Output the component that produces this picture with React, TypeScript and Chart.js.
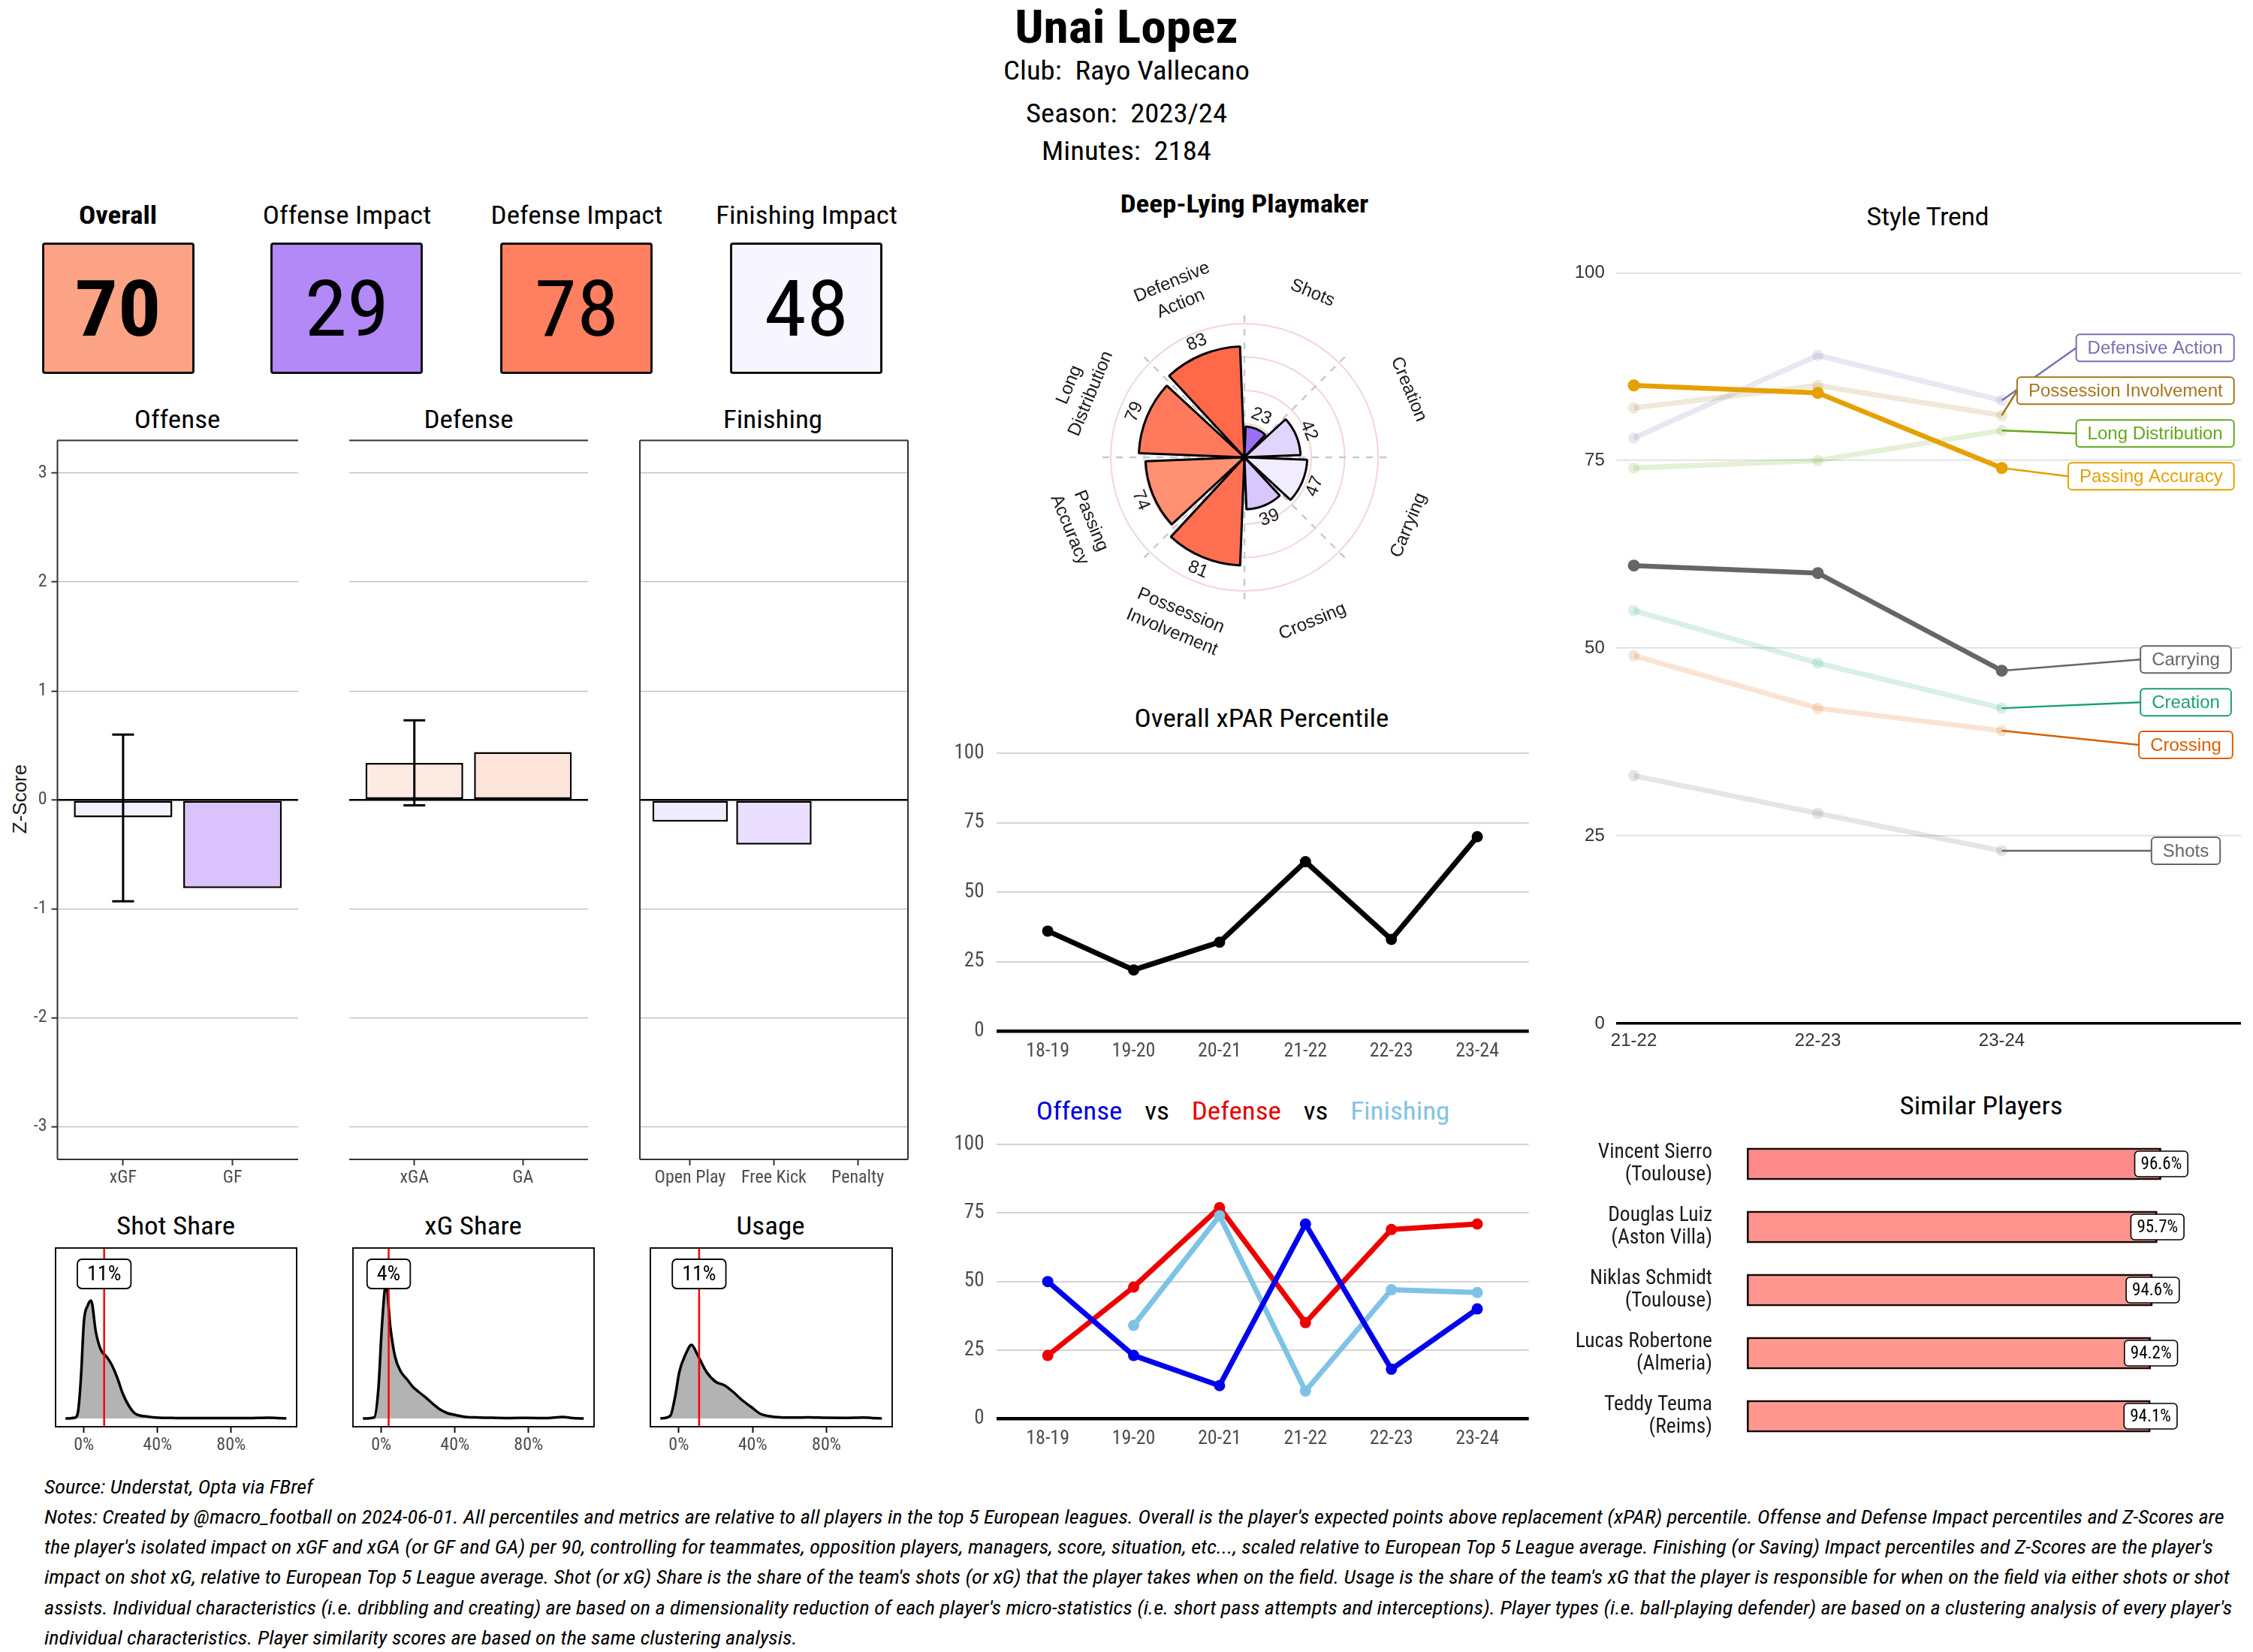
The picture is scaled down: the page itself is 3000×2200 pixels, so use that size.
import React, { useEffect, useLayoutEffect, useRef, useState } from 'react';
import { Chart, registerables } from 'chart.js';
Chart.register(...registerables);

// ---------------- data ----------------
const PLAYER_NAME = 'Unai Lopez';
const CLUB = 'Rayo Vallecano';
const SEASON = '2023/24';
const MINUTES = 2184;

const KPI_LABELS = ['Overall', 'Offense Impact', 'Defense Impact', 'Finishing Impact'];
const KPI_VALUES = [70, 29, 78, 48];

const OFFENSE_CATS = ['xGF', 'GF'];
const OFFENSE_Z = [-0.16, -0.81];
const OFFENSE_ERR_LOW: (number | null)[] = [-0.93, null];
const OFFENSE_ERR_HIGH: (number | null)[] = [0.6, null];
const DEFENSE_CATS = ['xGA', 'GA'];
const DEFENSE_Z = [0.34, 0.44];
const DEFENSE_ERR_LOW: (number | null)[] = [-0.05, null];
const DEFENSE_ERR_HIGH: (number | null)[] = [0.73, null];
const FINISHING_CATS = ['Open Play', 'Free Kick', 'Penalty'];
const FINISHING_Z = [-0.2, -0.41, 0];
const Z_TICKS = [-3, -2, -1, 0, 1, 2, 3];

const SHARE_TITLES = ['Shot Share', 'xG Share', 'Usage'];
const SHARE_VALUES = [11, 4, 11];
const SHARE_TICKS = [0, 40, 80];
const SHOT_SHARE_X = [-10, -5, -3.2, -1.6, 0, 2, 3.9, 6.5, 9.1, 12.4, 15, 18, 21.3, 24.4, 27.6, 30.9, 34, 39, 50, 60, 70, 80, 90, 100, 105, 110];
const SHOT_SHARE_Y = [0, 0.01, 0.09, 0.55, 1.29, 1.5, 1.57, 1.15, 0.92, 0.82, 0.72, 0.55, 0.32, 0.17, 0.07, 0.037, 0.027, 0.013, 0.006, 0.005, 0.006, 0.004, 0.005, 0.01, 0.006, 0];
const XG_SHARE_X = [-10, -3.9, -1.6, 0.3, 2.6, 4.9, 7.5, 10.7, 14, 17.2, 20.5, 23.8, 27.8, 31.9, 36, 40, 46, 53, 60, 70, 80, 90, 98.6, 104, 110];
const XG_SHARE_Y = [0, 0.013, 0.39, 1.22, 1.8, 1.22, 0.82, 0.62, 0.52, 0.42, 0.35, 0.287, 0.2, 0.12, 0.07, 0.047, 0.02, 0.013, 0.01, 0.006, 0.007, 0.005, 0.02, 0.005, 0];
const USAGE_X = [-10, -4.6, -2, 0.3, 3.6, 6.9, 10.1, 15, 19.9, 24.8, 29.6, 34.5, 39.4, 44.3, 49.2, 55, 62, 70, 80, 90, 99.6, 105, 110];
const USAGE_Y = [0, 0.037, 0.29, 0.62, 0.85, 0.98, 0.85, 0.62, 0.49, 0.44, 0.35, 0.24, 0.15, 0.06, 0.03, 0.015, 0.012, 0.014, 0.009, 0.008, 0.013, 0.006, 0];

const RADAR_TITLE = 'Deep-Lying Playmaker';
const RADAR_CATS = ['Shots', 'Creation', 'Carrying', 'Crossing', 'Possession Involvement', 'Passing Accuracy', 'Long Distribution', 'Defensive Action'];
const RADAR_VALUES = [23, 42, 47, 39, 81, 74, 79, 83];

const SEASONS = ['18-19', '19-20', '20-21', '21-22', '22-23', '23-24'];
const XPAR_PCT = [36, 22, 32, 61, 33, 70];
const OFFENSE_PCT = [50, 23, 12, 71, 18, 40];
const DEFENSE_PCT = [23, 48, 77, 35, 69, 71];
const FINISHING_PCT: (number | null)[] = [null, 34, 74, 10, 47, 46];
const PCT_TICKS = [0, 25, 50, 75, 100];

const STYLE_SEASONS = ['21-22', '22-23', '23-24'];
const STYLE_NAMES = ['Defensive Action', 'Possession Involvement', 'Long Distribution', 'Passing Accuracy', 'Carrying', 'Creation', 'Crossing', 'Shots'];
const STYLE_DEFENSIVE_ACTION = [78, 89, 83];
const STYLE_POSSESSION_INVOLVEMENT = [82, 85, 81];
const STYLE_LONG_DISTRIBUTION = [74, 75, 79];
const STYLE_PASSING_ACCURACY = [85, 84, 74];
const STYLE_CARRYING = [61, 60, 47];
const STYLE_CREATION = [55, 48, 42];
const STYLE_CROSSING = [49, 42, 39];
const STYLE_SHOTS = [33, 28, 23];
const STYLE_VALUES = [STYLE_DEFENSIVE_ACTION, STYLE_POSSESSION_INVOLVEMENT, STYLE_LONG_DISTRIBUTION, STYLE_PASSING_ACCURACY, STYLE_CARRYING, STYLE_CREATION, STYLE_CROSSING, STYLE_SHOTS];
const STYLE_HIGHLIGHT = ['Passing Accuracy', 'Carrying'];

const SIMILAR_NAMES = ['Vincent Sierro', 'Douglas Luiz', 'Niklas Schmidt', 'Lucas Robertone', 'Teddy Teuma'];
const SIMILAR_CLUBS = ['Toulouse', 'Aston Villa', 'Toulouse', 'Almeria', 'Reims'];
const SIMILAR_SCORES = [96.6, 95.7, 94.6, 94.2, 94.1];

const SOURCE_TEXT = 'Source: Understat, Opta via FBref';
const NOTES_LINES = [
  "Notes: Created by @macro_football on 2024-06-01. All percentiles and metrics are relative to all players in the top 5 European leagues. Overall is the player's expected points above replacement (xPAR) percentile. Offense and Defense Impact percentiles and Z-Scores are",
  "the player's isolated impact on xGF and xGA (or GF and GA) per 90, controlling for teammates, opposition players, managers, score, situation, etc..., scaled relative to European Top 5 League average. Finishing (or Saving) Impact percentiles and Z-Scores are the player's",
  "impact on shot xG, relative to European Top 5 League average. Shot (or xG) Share is the share of the team's shots (or xG) that the player takes when on the field. Usage is the share of the team's xG that the player is responsible for when on the field via either shots or shot",
  "assists. Individual characteristics (i.e. dribbling and creating) are based on a dimensionality reduction of each player's micro-statistics (i.e. short pass attempts and interceptions). Player types (i.e. ball-playing defender) are based on a clustering analysis of every player's",
  'individual characteristics. Player similarity scores are based on the same clustering analysis.',
];

// ---------------- styles ----------------
function detectFont(cands: string[], fallback: string): string {
  try {
    const c = document.createElement('canvas').getContext('2d')!;
    const s = 'abcdefghijklmnopqrstuvwxyz ABCDEFGHIJKLM 0123456789';
    c.font = '40px monospace';
    const bm = c.measureText(s).width;
    for (const f of cands) {
      c.font = `40px "${f}", monospace`;
      const w1 = c.measureText(s).width;
      c.font = `40px "${f}", serif`;
      const w2 = c.measureText(s).width;
      if (Math.abs(w1 - w2) < 0.01 && Math.abs(w1 - bm) > 0.01) return `"${f}"`;
    }
  } catch (e) {}
  return fallback;
}
const COND = detectFont(['Roboto Condensed', 'Liberation Sans Narrow', 'Arial Narrow', 'Noto Sans Condensed', 'Open Sans Condensed', 'DejaVu Sans Condensed'], 'Roboto');
const FONT_C = `${COND}, Roboto, sans-serif`;
const FONT_A = '"Liberation Sans", Arial, Helvetica, sans-serif';
const FONT_R = 'Roboto, "Liberation Sans", sans-serif';

const KPI_COLORS = ['#FCA385', '#B388F7', '#FF7F61', '#F7F5FF'];
const OFFENSE_COLORS = ['#F4F1FF', '#DAC3FD'];
const DEFENSE_COLORS = ['#FDEAE2', '#FDE4DA'];
const FINISHING_COLORS = ['#EFECFF', '#EADFFF', '#FFFFFF'];
const RADAR_COLORS = ['#9D6EF6', '#E2D5FD', '#F2EDFE', '#D8C7FB', '#FF6F52', '#FF9071', '#FF7A5C', '#FF6949'];
const STYLE_COLORS = ['#7570B3', '#A6761D', '#66A61E', '#E6A000', '#666666', '#1B9E77', '#D95F02', '#666666'];
const SIMILAR_COLORS = ['#FF8A8A', '#FF938D', '#FF968F', '#FF978F', '#FF978F'];
const TICK_GRAY = '#4D4D4D';
const TITLE_SIZE = 33.5;

const hexA = (hex: string, a: number) => {
  const n = parseInt(hex.slice(1), 16);
  return `rgba(${(n >> 16) & 255},${(n >> 8) & 255},${n & 255},${a})`;
};

const baseOptions = (extra: any) => ({
  animation: false,
  responsive: false,
  devicePixelRatio: 1,
  events: [],
  plugins: { legend: { display: false }, tooltip: { enabled: false }, title: { display: false } },
  ...extra,
});

const fixedTicks = (vals: number[]) => (s: any) => {
  s.ticks = vals.map((v) => ({ value: v }));
};

// ---------------- plugins ----------------
const panelBorders = (sides: { l?: boolean; r?: boolean; t?: boolean; b?: boolean }) => ({
  id: 'panelBorders',
  afterDatasetsDraw(chart: any) {
    const { ctx, chartArea: a } = chart;
    ctx.save();
    ctx.strokeStyle = '#333';
    ctx.lineWidth = 2;
    ctx.beginPath();
    if (sides.t) { ctx.moveTo(a.left, a.top); ctx.lineTo(a.right, a.top); }
    if (sides.b) { ctx.moveTo(a.left, a.bottom); ctx.lineTo(a.right, a.bottom); }
    if (sides.l) { ctx.moveTo(a.left, a.top); ctx.lineTo(a.left, a.bottom); }
    if (sides.r) { ctx.moveTo(a.right, a.top); ctx.lineTo(a.right, a.bottom); }
    ctx.stroke();
    ctx.restore();
  },
});

const errorBars = (lo: (number | null)[], hi: (number | null)[]) => ({
  id: 'errorBars',
  afterDatasetsDraw(chart: any) {
    const { ctx, scales } = chart;
    const x = scales.x, y = scales.y;
    ctx.save();
    ctx.strokeStyle = '#000';
    ctx.lineWidth = 3;
    lo.forEach((l, i) => {
      const h = hi[i];
      if (l == null || h == null) return;
      const px = x.getPixelForValue(i + 1);
      const cap = x.getPixelForValue(i + 1.1) - px;
      const y1 = y.getPixelForValue(l), y2 = y.getPixelForValue(h);
      ctx.beginPath();
      ctx.moveTo(px, y1); ctx.lineTo(px, y2);
      ctx.moveTo(px - cap, y1); ctx.lineTo(px + cap, y1);
      ctx.moveTo(px - cap, y2); ctx.lineTo(px + cap, y2);
      ctx.stroke();
    });
    ctx.restore();
  },
});

const shareMarker = (value: number) => ({
  id: 'shareMarker',
  afterDatasetsDraw(chart: any) {
    const { ctx, chartArea: a, scales } = chart;
    const px = scales.x.getPixelForValue(value);
    ctx.save();
    ctx.strokeStyle = '#FF0000';
    ctx.lineWidth = 2.5;
    ctx.beginPath(); ctx.moveTo(px, a.top); ctx.lineTo(px, a.bottom); ctx.stroke();
    ctx.strokeStyle = '#111';
    ctx.lineWidth = 2;
    ctx.strokeRect(a.left, a.top, a.right - a.left, a.bottom - a.top);
    const txt = `${value}%`;
    ctx.font = `28px ${FONT_C}`;
    const tw = ctx.measureText(txt).width;
    const bw = tw + 26, bh = 39, cy = a.top + 34.5;
    ctx.beginPath();
    ctx.roundRect(px - bw / 2, cy - bh / 2, bw, bh, 6);
    ctx.fillStyle = '#fff'; ctx.fill();
    ctx.lineWidth = 1.8; ctx.strokeStyle = '#000'; ctx.stroke();
    ctx.fillStyle = '#000'; ctx.textAlign = 'center'; ctx.textBaseline = 'middle';
    ctx.fillText(txt, px, cy + 1);
    ctx.restore();
  },
});

const polarDecor = {
  id: 'polarDecor',
  beforeDatasetsDraw(chart: any) {
    const { ctx } = chart;
    const r = chart.scales.r;
    const cx = r.xCenter, cy = r.yCenter;
    const len = r.getDistanceFromCenterForValue(110);
    ctx.save();
    ctx.strokeStyle = '#C9C9C9';
    ctx.lineWidth = 2.5;
    ctx.setLineDash([9, 9]);
    for (let k = 0; k < 8; k++) {
      const a = (k * 45 * Math.PI) / 180;
      ctx.beginPath();
      ctx.moveTo(cx, cy);
      ctx.lineTo(cx + Math.sin(a) * len, cy - Math.cos(a) * len);
      ctx.stroke();
    }
    ctx.restore();
  },
  afterDatasetsDraw(chart: any) {
    const { ctx } = chart;
    const r = chart.scales.r;
    const cx = r.xCenter, cy = r.yCenter;
    const meta = chart.getDatasetMeta(0);
    ctx.save();
    ctx.fillStyle = '#1a1a1a';
    ctx.textAlign = 'center';
    ctx.textBaseline = 'middle';
    ctx.font = `24px ${FONT_A}`;
    RADAR_CATS.forEach((cat, i) => {
      const arc = meta.data[i * 2];
      const a = (arc.startAngle + arc.endAngle) / 2;
      let theta = ((a + Math.PI / 2) * 180) / Math.PI;
      theta = ((theta % 360) + 360) % 360;
      let rot = theta;
      if (theta > 90 && theta < 270) rot -= 180;
      const draw = (radius: number, lines: string[]) => {
        ctx.save();
        ctx.translate(cx + Math.cos(a) * radius, cy + Math.sin(a) * radius);
        ctx.rotate((rot * Math.PI) / 180);
        const lh = 31;
        lines.forEach((ln, j) => ctx.fillText(ln, 0, (j - (lines.length - 1) / 2) * lh));
        ctx.restore();
      };
      draw(r.getDistanceFromCenterForValue(RADAR_VALUES[i] + 10), [String(RADAR_VALUES[i])]);
      draw(r.getDistanceFromCenterForValue(133), cat.split(' '));
    });
    ctx.restore();
  },
};

type LabelPos = { x: number; y: number; align: 'right' | 'center' };
const STYLE_LABEL_LAYOUT: LabelPos[] = [
  { x: 3.262, y: 90.0, align: 'right' },
  { x: 3.262, y: 84.3, align: 'right' },
  { x: 3.262, y: 78.6, align: 'right' },
  { x: 3.262, y: 72.9, align: 'right' },
  { x: 3.0, y: 48.5, align: 'center' },
  { x: 3.0, y: 42.8, align: 'center' },
  { x: 3.0, y: 37.1, align: 'center' },
  { x: 3.0, y: 23.0, align: 'center' },
];

const styleLabels = {
  id: 'styleLabels',
  afterDatasetsDraw(chart: any) {
    const { ctx, scales } = chart;
    const x = scales.x, y = scales.y;
    ctx.save();
    ctx.font = `24px ${FONT_A}`;
    ctx.textBaseline = 'middle';
    ctx.textAlign = 'center';
    STYLE_NAMES.forEach((name, i) => {
      const col = STYLE_COLORS[i];
      const lay = STYLE_LABEL_LAYOUT[i];
      const vals = STYLE_VALUES[i];
      const px = x.getPixelForValue(vals.length - 1);
      const py = y.getPixelForValue(vals[vals.length - 1]);
      const tw = ctx.measureText(name).width;
      const bw = tw + 30, bh = 36;
      const ax = x.getPixelForValue(lay.x);
      const bx = lay.align === 'right' ? ax - bw : ax - bw / 2;
      const by = y.getPixelForValue(lay.y);
      ctx.strokeStyle = col;
      ctx.lineWidth = 2.5;
      ctx.beginPath(); ctx.moveTo(px, py); ctx.lineTo(bx, by); ctx.stroke();
      ctx.beginPath();
      ctx.roundRect(bx, by - bh / 2, bw, bh, 5);
      ctx.fillStyle = '#fff'; ctx.fill();
      ctx.lineWidth = 2; ctx.strokeStyle = col; ctx.stroke();
      ctx.fillStyle = col;
      ctx.fillText(name, bx + bw / 2, by + 1);
    });
    ctx.restore();
  },
};

const similarLabels = {
  id: 'similarLabels',
  afterDatasetsDraw(chart: any) {
    const { ctx } = chart;
    const meta = chart.getDatasetMeta(0);
    ctx.save();
    ctx.font = `23px ${FONT_C}`;
    ctx.textAlign = 'center';
    ctx.textBaseline = 'middle';
    meta.data.forEach((bar: any, i: number) => {
      const txt = `${SIMILAR_SCORES[i].toFixed(1)}%`;
      const tw = ctx.measureText(txt).width;
      const bw = tw + 16, bh = 34;
      ctx.beginPath();
      ctx.roundRect(bar.x - bw / 2, bar.y - bh / 2, bw, bh, 5);
      ctx.fillStyle = '#fff'; ctx.fill();
      ctx.lineWidth = 1.6; ctx.strokeStyle = '#000'; ctx.stroke();
      ctx.fillStyle = '#000';
      ctx.fillText(txt, bar.x, bar.y + 1);
    });
    ctx.restore();
  },
};

// ---------------- configs ----------------
function zPanelConfig(cats: string[], vals: number[], colors: string[], lo: (number | null)[] | null, hi: (number | null)[] | null, showY: boolean, sides: any, pad: any) {
  const n = cats.length;
  const plugins: any[] = [panelBorders(sides)];
  if (lo && hi) plugins.push(errorBars(lo, hi));
  return {
    type: 'bar',
    data: {
      datasets: [{
        data: vals.map((v, i) => ({ x: i + 1, y: v })),
        backgroundColor: colors,
        borderColor: '#000',
        borderWidth: 2.5,
        borderSkipped: false,
        barPercentage: 0.9,
        categoryPercentage: 1,
      }],
    },
    options: baseOptions({
      layout: { padding: pad },
      scales: {
        x: {
          type: 'linear', min: 0.4, max: n + 0.6, offset: false,
          afterBuildTicks: fixedTicks(cats.map((_, i) => i + 1)),
          ticks: { callback: (v: any) => cats[Math.round(v) - 1] ?? '', font: { family: FONT_C, size: 24 }, color: TICK_GRAY, padding: 3, maxRotation: 0, autoSkip: false },
          grid: { offset: false, drawOnChartArea: false, drawTicks: true, tickLength: 8, tickColor: '#333', tickWidth: 2 },
          border: { display: false },
          afterFit: (s: any) => { s.height = 50; s.paddingLeft = 0; s.paddingRight = 0; },
        },
        y: {
          min: -3.3, max: 3.3,
          afterBuildTicks: fixedTicks(Z_TICKS),
          ticks: { display: showY, font: { family: FONT_C, size: 24 }, color: TICK_GRAY, padding: 6 },
          grid: {
            color: (c: any) => (c.tick && c.tick.value === 0 ? '#000' : '#BBBBBB'),
            lineWidth: (c: any) => (c.tick && c.tick.value === 0 ? 2.5 : 1.3),
            drawTicks: showY, tickLength: 8, tickColor: '#333', tickWidth: 2,
          },
          border: { display: false },
          afterFit: (s: any) => { s.width = showY ? 76.5 : 0; s.paddingTop = 0; s.paddingBottom = 0; },
        },
      },
    }),
    plugins,
  };
}

function densityConfig(xs: number[], ys: number[], value: number) {
  return {
    type: 'line',
    data: {
      datasets: [{
        data: xs.map((x, i) => ({ x, y: ys[i] })),
        borderColor: '#000', borderWidth: 3.5,
        backgroundColor: '#B3B3B3', fill: 'origin',
        pointRadius: 0, cubicInterpolationMode: 'monotone', tension: 0.4,
      }],
    },
    options: baseOptions({
      layout: { padding: { left: 20, right: 19, top: 12, bottom: 0 } },
      scales: {
        x: {
          type: 'linear', min: -15.4, max: 115.6, offset: false,
          afterBuildTicks: fixedTicks(SHARE_TICKS),
          ticks: { callback: (v: any) => `${v}%`, font: { family: FONT_C, size: 24 }, color: TICK_GRAY, padding: 3, maxRotation: 0 },
          grid: { drawOnChartArea: false, drawTicks: true, tickLength: 8, tickColor: '#111', tickWidth: 2 },
          border: { display: false },
          afterFit: (s: any) => { s.height = 40; s.paddingLeft = 0; s.paddingRight = 0; },
        },
        y: { display: false, min: -0.11, max: 2.27 },
      },
    }),
    plugins: [shareMarker(value)],
  };
}

function polarConfig() {
  return {
    type: 'polarArea',
    data: {
      labels: RADAR_CATS.flatMap((c) => [c, '']),
      datasets: [{
        data: RADAR_VALUES.flatMap((v) => [v, 0]),
        backgroundColor: RADAR_COLORS.flatMap((c) => [c, 'rgba(0,0,0,0)']),
        borderColor: '#000',
        borderWidth: (c: any) => (c.dataIndex % 2 === 0 ? 3 : 0),
        angle: (c: any) => (c.dataIndex % 2 === 0 ? 40.5 : 4.5),
      }],
    },
    options: baseOptions({
      layout: { padding: 122 },
      scales: {
        r: {
          min: 0, max: 100, startAngle: 2.25,
          ticks: { display: false, stepSize: 25 },
          grid: { color: '#F2D5D8', lineWidth: 2, circular: true },
          angleLines: { display: false },
          pointLabels: { display: false },
        },
      },
    }),
    plugins: [polarDecor],
  };
}

function pctLineConfig(datasets: any[], padTop: number) {
  return {
    type: 'line',
    data: { datasets },
    options: baseOptions({
      layout: { padding: { top: padTop, right: 14.3, left: 0, bottom: 0 } },
      scales: {
        x: {
          type: 'linear', min: 0.4, max: 6.6, offset: false,
          afterBuildTicks: fixedTicks(SEASONS.map((_, i) => i + 1)),
          ticks: { callback: (v: any) => SEASONS[Math.round(v) - 1] ?? '', font: { family: FONT_C, size: 26 }, color: TICK_GRAY, padding: 12, maxRotation: 0, autoSkip: false },
          grid: { display: false, drawTicks: false },
          border: { display: false },
          afterFit: (s: any) => { s.height = 50; s.paddingLeft = 0; s.paddingRight = 0; },
        },
        y: {
          min: 0, max: 100,
          afterBuildTicks: fixedTicks(PCT_TICKS),
          ticks: { font: { family: FONT_C, size: 27 }, color: TICK_GRAY, padding: 16 },
          grid: {
            drawTicks: false,
            color: (c: any) => (c.tick && c.tick.value === 0 ? '#000' : '#D4D4D4'),
            lineWidth: (c: any) => (c.tick && c.tick.value === 0 ? 4.5 : 2),
          },
          border: { display: false },
          afterFit: (s: any) => { s.width = 76.5; s.paddingTop = 0; s.paddingBottom = 0; },
        },
      },
    }),
  };
}

const pctSeries = (vals: (number | null)[], color: string, width: number, order: number) => ({
  data: vals.map((v, i) => ({ x: i + 1, y: v })),
  borderColor: color, backgroundColor: color,
  pointBackgroundColor: color, pointBorderWidth: 0,
  borderWidth: width, pointRadius: 7.5, order, spanGaps: false, clip: false,
});

function styleConfig() {
  return {
    type: 'line',
    data: {
      datasets: STYLE_NAMES.map((name, i) => {
        const hl = STYLE_HIGHLIGHT.includes(name);
        const col = hl ? STYLE_COLORS[i] : hexA(STYLE_COLORS[i], 0.17);
        return {
          label: name,
          data: STYLE_VALUES[i].map((v, j) => ({ x: j, y: v })),
          borderColor: col, backgroundColor: col, pointBackgroundColor: col,
          pointBorderWidth: 0, borderWidth: hl ? 6.5 : 7, pointRadius: hl ? 8 : 7.5,
          order: hl ? 0 : 1, clip: false,
        };
      }),
    },
    options: baseOptions({
      layout: { padding: { top: 43.3, right: 16, left: 0, bottom: 0 } },
      scales: {
        x: {
          type: 'linear', min: -0.097, max: 3.3, offset: false,
          afterBuildTicks: fixedTicks(STYLE_SEASONS.map((_, i) => i)),
          ticks: { callback: (v: any) => STYLE_SEASONS[Math.round(v)] ?? '', font: { family: FONT_A, size: 24 }, color: '#333', padding: 9, maxRotation: 0, autoSkip: false },
          grid: { display: false, drawTicks: false },
          border: { display: false },
          afterFit: (s: any) => { s.height = 45; s.paddingLeft = 0; s.paddingRight = 0; },
        },
        y: {
          min: 0, max: 100,
          afterBuildTicks: fixedTicks(PCT_TICKS),
          ticks: { font: { family: FONT_A, size: 24 }, color: '#333', padding: 15 },
          grid: {
            drawTicks: false,
            color: (c: any) => (c.tick && c.tick.value === 0 ? '#000' : '#DADADA'),
            lineWidth: (c: any) => (c.tick && c.tick.value === 0 ? 3.5 : 1.5),
          },
          border: { display: false },
          afterFit: (s: any) => { s.width = 101.8; s.paddingTop = 0; s.paddingBottom = 0; },
        },
      },
    }),
    plugins: [styleLabels],
  };
}

function similarConfig() {
  return {
    type: 'bar',
    data: {
      labels: SIMILAR_NAMES.map((n, i) => [n, `(${SIMILAR_CLUBS[i]})`]),
      datasets: [{
        data: SIMILAR_SCORES,
        backgroundColor: SIMILAR_COLORS,
        borderColor: '#1A0505', borderWidth: 3, borderSkipped: false,
        barPercentage: 0.51, categoryPercentage: 1,
      }],
    },
    options: baseOptions({
      indexAxis: 'y',
      layout: { padding: { top: 18, bottom: 2, right: 102.7, left: 0 } },
      scales: {
        x: { display: false, min: 0, max: 100 },
        y: {
          ticks: { font: { family: FONT_C, size: 27.5, lineHeight: 1.1 }, color: '#1a1a1a', padding: 45.8, autoSkip: false },
          grid: { display: false, drawTicks: false },
          border: { display: false },
          afterFit: (s: any) => { s.width = 275.8; s.paddingTop = 0; s.paddingBottom = 0; },
        },
      },
    }),
    plugins: [similarLabels],
  };
}

// ---------------- components ----------------
function ChartCanvas({ x, y, w, h, config }: { x: number; y: number; w: number; h: number; config: () => any }) {
  const ref = useRef<HTMLCanvasElement>(null);
  useEffect(() => {
    if (!ref.current) return;
    const ch = new Chart(ref.current, config());
    return () => ch.destroy();
  }, []);
  return <canvas ref={ref} width={w} height={h} style={{ position: 'absolute', left: x, top: y, width: w, height: h }} />;
}

type TxtProps = {
  x: number; y: number; size: number; children: React.ReactNode;
  weight?: number; italic?: boolean; family?: string; color?: string; k?: number;
  anchor?: 'center' | 'left'; rotate?: number; innerRef?: any;
};
function Txt({ x, y, size, children, weight = 400, italic = false, family = FONT_C, color = '#000', k = 1, anchor = 'center', rotate = 0, innerRef }: TxtProps) {
  const tx = anchor === 'center' ? '-50%' : '0';
  return (
    <div
      ref={innerRef}
      style={{
        position: 'absolute', left: x, top: y, fontFamily: family, fontSize: size, fontWeight: weight,
        fontStyle: italic ? 'italic' : 'normal', color, lineHeight: 1, whiteSpace: 'pre',
        transform: `translate(${tx},-50%)${rotate ? ` rotate(${rotate}deg)` : ''} scaleX(${k})`,
        transformOrigin: anchor === 'center' ? '50% 50%' : '0 50%',
      }}
    >
      {children}
    </div>
  );
}

const KPI_BOXES = [
  { left: 55.5, cx: 156.8 },
  { left: 360, cx: 462 },
  { left: 666, cx: 768 },
  { left: 972, cx: 1074 },
];

export default function App() {
  const [kHead, setKHead] = useState(1);
  const [kNote, setKNote] = useState(1);
  const clubRef = useRef<HTMLDivElement>(null);
  const noteRef = useRef<HTMLDivElement>(null);
  useLayoutEffect(() => {
    const cw = clubRef.current ? clubRef.current.offsetWidth : 0;
    const nw = noteRef.current ? noteRef.current.offsetWidth : 0;
    if (cw > 0) setKHead(Math.max(0.6, Math.min(1.3, 328 / cw)));
    if (nw > 0) setKNote(Math.max(0.6, Math.min(1.3, 2902 / nw)));
  }, []);

  return (
    <div style={{ position: 'absolute', left: 0, top: 0, width: 3000, height: 2200, background: '#fff', overflow: 'hidden' }}>
      {/* header */}
      <Txt x={1500} y={35.5} size={61} weight={700} k={kHead}>{PLAYER_NAME}</Txt>
      <Txt x={1500} y={94.2} size={35} k={kHead} innerRef={clubRef}>{`Club:  ${CLUB}`}</Txt>
      <Txt x={1500} y={150.8} size={35} k={kHead}>{`Season:  ${SEASON}`}</Txt>
      <Txt x={1500} y={200.8} size={35} k={kHead}>{`Minutes:  ${MINUTES}`}</Txt>

      {/* KPI boxes */}
      {KPI_LABELS.map((lab, i) => (
        <React.Fragment key={lab}>
          <Txt x={KPI_BOXES[i].cx} y={287} size={TITLE_SIZE} weight={i === 0 ? 700 : 400} k={kHead}>{lab}</Txt>
          <div style={{ position: 'absolute', left: KPI_BOXES[i].left, top: 323, width: 203, height: 175, boxSizing: 'border-box', background: KPI_COLORS[i], border: '3px solid #111', borderRadius: 4 }} />
          <Txt x={KPI_BOXES[i].cx} y={411} size={103} weight={i === 0 ? 700 : 400} k={kHead}>{String(KPI_VALUES[i])}</Txt>
        </React.Fragment>
      ))}

      {/* z-score panels */}
      <Txt x={236} y={559} size={TITLE_SIZE} k={kHead}>Offense</Txt>
      <Txt x={624} y={559} size={TITLE_SIZE} k={kHead}>Defense</Txt>
      <Txt x={1029} y={559} size={TITLE_SIZE} k={kHead}>Finishing</Txt>
      <Txt x={26} y={1064} size={26} family={FONT_A} rotate={-90} color="#1a1a1a">Z-Score</Txt>
      <ChartCanvas x={0} y={540} w={410} h={1054} config={() => zPanelConfig(OFFENSE_CATS, OFFENSE_Z, OFFENSE_COLORS, OFFENSE_ERR_LOW, OFFENSE_ERR_HIGH, true, { l: true, t: true, b: true }, { left: 0, top: 46.5, right: 13, bottom: 0 })} />
      <ChartCanvas x={455} y={540} w={340} h={1054} config={() => zPanelConfig(DEFENSE_CATS, DEFENSE_Z, DEFENSE_COLORS, DEFENSE_ERR_LOW, DEFENSE_ERR_HIGH, false, { t: true, b: true }, { left: 10, top: 46.5, right: 12, bottom: 0 })} />
      <ChartCanvas x={842} y={540} w={380} h={1054} config={() => zPanelConfig(FINISHING_CATS, FINISHING_Z, FINISHING_COLORS, null, null, false, { t: true, b: true, l: true, r: true }, { left: 10, top: 46.5, right: 13, bottom: 0 })} />

      {/* share densities */}
      <Txt x={233.6} y={1633} size={TITLE_SIZE} k={kHead}>{SHARE_TITLES[0]}</Txt>
      <Txt x={630} y={1633} size={TITLE_SIZE} k={kHead}>{SHARE_TITLES[1]}</Txt>
      <Txt x={1026} y={1633} size={TITLE_SIZE} k={kHead}>{SHARE_TITLES[2]}</Txt>
      <ChartCanvas x={54} y={1650} w={360} h={290} config={() => densityConfig(SHOT_SHARE_X, SHOT_SHARE_Y, SHARE_VALUES[0])} />
      <ChartCanvas x={450} y={1650} w={360} h={290} config={() => densityConfig(XG_SHARE_X, XG_SHARE_Y, SHARE_VALUES[1])} />
      <ChartCanvas x={846} y={1650} w={361} h={290} config={() => densityConfig(USAGE_X, USAGE_Y, SHARE_VALUES[2])} />

      {/* polar */}
      <Txt x={1657} y={272} size={TITLE_SIZE} weight={700} k={kHead}>{RADAR_TITLE}</Txt>
      <ChartCanvas x={1357} y={309} w={600} h={600} config={polarConfig} />

      {/* xPAR */}
      <Txt x={1680} y={957} size={TITLE_SIZE} k={kHead}>Overall xPAR Percentile</Txt>
      <ChartCanvas x={1250} y={960} w={800} h={463.3} config={() => pctLineConfig([pctSeries(XPAR_PCT, '#000', 7, 0)], 43.3)} />

      {/* offense vs defense vs finishing */}
      <Txt x={1655} y={1480} size={TITLE_SIZE} k={kHead}>
        <span style={{ color: '#0000E0' }}>Offense</span>
        <span style={{ marginLeft: 27, marginRight: 27 }}>vs</span>
        <span style={{ color: '#E80000' }}>Defense</span>
        <span style={{ marginLeft: 27, marginRight: 27 }}>vs</span>
        <span style={{ color: '#83C3E4' }}>Finishing</span>
      </Txt>
      <ChartCanvas x={1250} y={1480.5} w={800} h={458.5} config={() => pctLineConfig([
        pctSeries(OFFENSE_PCT, '#0000EE', 7, 0),
        pctSeries(FINISHING_PCT, '#7EC3E6', 7, 1),
        pctSeries(DEFENSE_PCT, '#EE0000', 7, 2),
      ], 43.3)} />

      {/* style trend */}
      <Txt x={2567} y={288} size={33} family={FONT_R}>Style Trend</Txt>
      <ChartCanvas x={2050} y={320} w={950} h={1088.3} config={styleConfig} />

      {/* similar players */}
      <Txt x={2638} y={1473} size={TITLE_SIZE} k={kHead}>Similar Players</Txt>
      <ChartCanvas x={2050} y={1490} w={950} h={440} config={similarConfig} />

      {/* notes */}
      <Txt x={59} y={1980} size={25} italic anchor="left" k={kNote}>{SOURCE_TEXT}</Txt>
      {NOTES_LINES.map((ln, i) => (
        <Txt key={i} x={59} y={2020 + i * 40.2} size={25} italic anchor="left" k={kNote} innerRef={i === 0 ? noteRef : undefined}>{ln}</Txt>
      ))}
    </div>
  );
}
